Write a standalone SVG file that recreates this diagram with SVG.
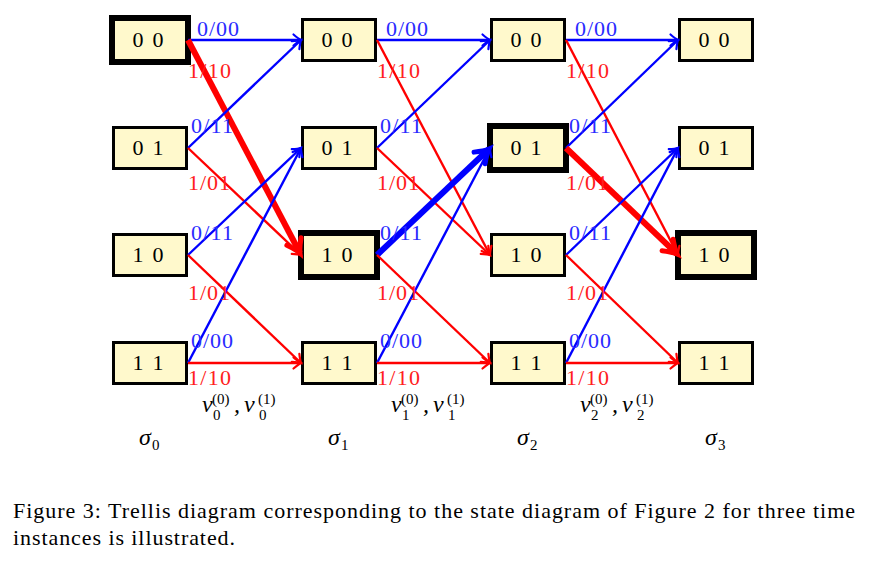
<svg xmlns="http://www.w3.org/2000/svg" width="877" height="569" viewBox="0 0 877 569">
<style>
.box{fill:#fff9cc;stroke:#000;stroke-width:3}
.tbox{fill:#fff9cc;stroke:#000;stroke-width:6}
.st{font-family:"Liberation Serif","DejaVu Serif",serif;font-size:22px;fill:#000;text-anchor:middle}
.b{stroke:#0000ff;stroke-width:2.4;fill:none;marker-end:url(#aB)}
.r{stroke:#ff0000;stroke-width:2.4;fill:none;marker-end:url(#aR)}
.bt{stroke:#0000ff;stroke-width:6;fill:none;marker-end:url(#aBT)}
.rt{stroke:#ff0000;stroke-width:6;fill:none;marker-end:url(#aRT)}
.lb{font-family:"Liberation Serif","DejaVu Serif",serif;font-size:22px;fill:#2a2aff}
.lr{font-family:"Liberation Serif","DejaVu Serif",serif;font-size:22px;fill:#ff2020}
.m{font-family:"Liberation Serif","DejaVu Serif",serif;font-size:24px;font-style:italic;fill:#000}
.ms{font-family:"Liberation Serif","DejaVu Serif",serif;font-size:15px;fill:#000}
.cap{font-family:"Liberation Serif","DejaVu Serif",serif;font-size:22px;fill:#000}
</style>
<defs>
<marker id="aB" markerUnits="userSpaceOnUse" orient="auto" refX="0" refY="0" markerWidth="20" markerHeight="20" overflow="visible"><path d="M-7.5,-5.5 Q-2.5,-1.3 0,0 Q-2.5,1.3 -7.5,5.5" fill="none" stroke="#0000ff" stroke-width="2.2" stroke-linecap="round"/></marker>
<marker id="aR" markerUnits="userSpaceOnUse" orient="auto" refX="0" refY="0" markerWidth="20" markerHeight="20" overflow="visible"><path d="M-7.5,-5.5 Q-2.5,-1.3 0,0 Q-2.5,1.3 -7.5,5.5" fill="none" stroke="#ff0000" stroke-width="2.2" stroke-linecap="round"/></marker>
<marker id="aBT" markerUnits="userSpaceOnUse" orient="auto" refX="0" refY="0" markerWidth="30" markerHeight="30" overflow="visible"><path d="M-13,-8 Q-5,-2 0,0 Q-5,2 -13,8" fill="none" stroke="#0000ff" stroke-width="5" stroke-linecap="round"/></marker>
<marker id="aRT" markerUnits="userSpaceOnUse" orient="auto" refX="0" refY="0" markerWidth="30" markerHeight="30" overflow="visible"><path d="M-13,-8 Q-5,-2 0,0 Q-5,2 -13,8" fill="none" stroke="#ff0000" stroke-width="5" stroke-linecap="round"/></marker>
</defs>

<!-- column 0 -->
<g id="s0_00"><rect class="tbox" x="112" y="18" width="76" height="44"/><text class="st" x="148" y="47" textLength="31">0 0</text></g>
<g id="s0_01"><rect class="box" x="113.5" y="127.5" width="73" height="41"/><text class="st" x="148" y="155" textLength="31">0 1</text></g>
<g id="s0_10"><rect class="box" x="113.5" y="234.5" width="73" height="41"/><text class="st" x="148" y="262" textLength="31">1 0</text></g>
<g id="s0_11"><rect class="box" x="113.5" y="342.5" width="73" height="41"/><text class="st" x="148" y="370" textLength="31">1 1</text></g>
<!-- column 1 -->
<g id="s1_00"><rect class="box" x="302.5" y="19.5" width="73" height="41"/><text class="st" x="337" y="47" textLength="31">0 0</text></g>
<g id="s1_01"><rect class="box" x="302.5" y="127.5" width="73" height="41"/><text class="st" x="337" y="155" textLength="31">0 1</text></g>
<g id="s1_10"><rect class="tbox" x="301" y="233" width="76" height="44"/><text class="st" x="337" y="262" textLength="31">1 0</text></g>
<g id="s1_11"><rect class="box" x="302.5" y="342.5" width="73" height="41"/><text class="st" x="337" y="370" textLength="31">1 1</text></g>
<!-- column 2 -->
<g id="s2_00"><rect class="box" x="491.5" y="19.5" width="73" height="41"/><text class="st" x="526" y="47" textLength="31">0 0</text></g>
<g id="s2_01"><rect class="tbox" x="490" y="126" width="76" height="44"/><text class="st" x="526" y="155" textLength="31">0 1</text></g>
<g id="s2_10"><rect class="box" x="491.5" y="234.5" width="73" height="41"/><text class="st" x="526" y="262" textLength="31">1 0</text></g>
<g id="s2_11"><rect class="box" x="491.5" y="342.5" width="73" height="41"/><text class="st" x="526" y="370" textLength="31">1 1</text></g>
<!-- column 3 -->
<g id="s3_00"><rect class="box" x="679.5" y="19.5" width="73" height="41"/><text class="st" x="714" y="47" textLength="31">0 0</text></g>
<g id="s3_01"><rect class="box" x="679.5" y="127.5" width="73" height="41"/><text class="st" x="714" y="155" textLength="31">0 1</text></g>
<g id="s3_10"><rect class="tbox" x="678" y="233" width="76" height="44"/><text class="st" x="714" y="262" textLength="31">1 0</text></g>
<g id="s3_11"><rect class="box" x="679.5" y="342.5" width="73" height="41"/><text class="st" x="714" y="370" textLength="31">1 1</text></g>

<g id="connectors">
<!-- stage 0 -->
<line class="b" x1="188" y1="40" x2="301" y2="40"/>
<line class="rt" x1="188" y1="40" x2="300" y2="253"/>
<line class="b" x1="188" y1="148" x2="301" y2="40"/>
<line class="r" x1="188" y1="148" x2="301" y2="255"/>
<line class="b" x1="188" y1="255" x2="301" y2="148"/>
<line class="r" x1="188" y1="255" x2="301" y2="363"/>
<line class="b" x1="188" y1="363" x2="301" y2="148"/>
<line class="r" x1="188" y1="363" x2="301" y2="363"/>
<!-- stage 1 -->
<line class="b" x1="377" y1="40" x2="490" y2="40"/>
<line class="r" x1="377" y1="40" x2="490" y2="255"/>
<line class="b" x1="377" y1="148" x2="490" y2="40"/>
<line class="r" x1="377" y1="148" x2="490" y2="255"/>
<line class="bt" x1="377" y1="255" x2="489" y2="149"/>
<line class="r" x1="377" y1="255" x2="490" y2="363"/>
<line class="b" x1="377" y1="363" x2="490" y2="148"/>
<line class="r" x1="377" y1="363" x2="490" y2="363"/>
<!-- stage 2 -->
<line class="b" x1="566" y1="40" x2="678" y2="40"/>
<line class="r" x1="566" y1="40" x2="678" y2="255"/>
<line class="b" x1="566" y1="148" x2="678" y2="40"/>
<line class="rt" x1="566" y1="148" x2="677" y2="254"/>
<line class="b" x1="566" y1="255" x2="678" y2="148"/>
<line class="r" x1="566" y1="255" x2="678" y2="363"/>
<line class="b" x1="566" y1="363" x2="678" y2="148"/>
<line class="r" x1="566" y1="363" x2="678" y2="363"/>
</g>

<g id="labels">
<text class="lb" x="197" y="36" textLength="42">0/00</text>
<text class="lr" x="188" y="78" textLength="43">1/10</text>
<text class="lb" x="191" y="133" textLength="42">0/11</text>
<text class="lr" x="188" y="190" textLength="42">1/01</text>
<text class="lb" x="191" y="240" textLength="42">0/11</text>
<text class="lr" x="188" y="300" textLength="42">1/01</text>
<text class="lb" x="191" y="348" textLength="42">0/00</text>
<text class="lr" x="188" y="385" textLength="43">1/10</text>

<text class="lb" x="386" y="36" textLength="42">0/00</text>
<text class="lr" x="377" y="78" textLength="43">1/10</text>
<text class="lb" x="380" y="133" textLength="42">0/11</text>
<text class="lr" x="377" y="190" textLength="42">1/01</text>
<text class="lb" x="380" y="240" textLength="42">0/11</text>
<text class="lr" x="377" y="300" textLength="42">1/01</text>
<text class="lb" x="380" y="348" textLength="42">0/00</text>
<text class="lr" x="377" y="385" textLength="43">1/10</text>

<text class="lb" x="575" y="36" textLength="42">0/00</text>
<text class="lr" x="566" y="78" textLength="43">1/10</text>
<text class="lb" x="569" y="133" textLength="42">0/11</text>
<text class="lr" x="566" y="190" textLength="42">1/01</text>
<text class="lb" x="569" y="240" textLength="42">0/11</text>
<text class="lr" x="566" y="300" textLength="42">1/01</text>
<text class="lb" x="569" y="348" textLength="42">0/00</text>
<text class="lr" x="566" y="385" textLength="43">1/10</text>
</g>

<g id="outputs">
<text class="m" x="202" y="412">v</text><text class="ms" x="212" y="404">(0)</text><text class="ms" x="213" y="420">0</text><text class="m" x="234" y="412">,</text>
<text class="m" x="244" y="412">v</text><text class="ms" x="258" y="404">(1)</text><text class="ms" x="259" y="420">0</text>

<text class="m" x="391" y="412">v</text><text class="ms" x="401" y="404">(0)</text><text class="ms" x="402" y="420">1</text><text class="m" x="423" y="412">,</text>
<text class="m" x="433" y="412">v</text><text class="ms" x="447" y="404">(1)</text><text class="ms" x="448" y="420">1</text>

<text class="m" x="580" y="412">v</text><text class="ms" x="590" y="404">(0)</text><text class="ms" x="591" y="420">2</text><text class="m" x="612" y="412">,</text>
<text class="m" x="622" y="412">v</text><text class="ms" x="636" y="404">(1)</text><text class="ms" x="637" y="420">2</text>
</g>

<g id="stages">
<text class="m" x="139" y="445">σ</text><text class="ms" x="152" y="450">0</text>
<text class="m" x="328" y="445">σ</text><text class="ms" x="341" y="450">1</text>
<text class="m" x="517" y="445">σ</text><text class="ms" x="530" y="450">2</text>
<text class="m" x="705" y="445">σ</text><text class="ms" x="718" y="450">3</text>
</g>

<g id="caption">
<text class="cap" x="13" y="518" textLength="842" lengthAdjust="spacing">Figure 3: Trellis diagram corresponding to the state diagram of Figure 2 for three time</text>
<text class="cap" x="13" y="545" textLength="222" lengthAdjust="spacing">instances is illustrated.</text>
</g>
</svg>
